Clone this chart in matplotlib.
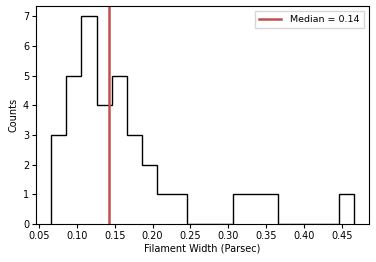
import matplotlib
matplotlib.use("Agg")
import matplotlib.pyplot as plt
import numpy as np

bin_edges = [0.066, 0.086, 0.106, 0.126, 0.146, 0.166, 0.186, 0.206, 0.226, 0.246,
             0.266, 0.286, 0.306, 0.326, 0.346, 0.366, 0.386, 0.406, 0.426, 0.446, 0.466]
counts = [3, 5, 7, 4, 5, 3, 2, 1, 1, 0, 0, 0, 1, 1, 1, 0, 0, 0, 0, 1]
median_value = 0.142
median_label = "Median = 0.14"
x_ticks = [0.05, 0.10, 0.15, 0.20, 0.25, 0.30, 0.35, 0.40, 0.45]
y_ticks = [0, 1, 2, 3, 4, 5, 6, 7]

plt.rcParams['font.family'] = ['DejaVu Sans']
plt.rcParams['font.size'] = 7

fig = plt.figure(figsize=(3.76, 2.62), dpi=100)
ax = fig.add_axes([0.096, 0.145, 0.885, 0.832])

edges = np.array(bin_edges)
centers = (edges[:-1] + edges[1:]) / 2
ax.hist(centers, bins=edges, weights=counts, histtype='step', color='black', linewidth=1.0)
ax.axvline(median_value, color='#c0504d', linewidth=1.8, label=median_label)

ax.set_xticks(x_ticks)
ax.set_xticklabels([f"{t:.2f}" for t in x_ticks])
ax.set_yticks(y_ticks)
ax.set_xlabel("Filament Width (Parsec)", fontsize=7, labelpad=2)
ax.set_ylabel("Counts", fontsize=7, labelpad=3)
ax.tick_params(labelsize=7, length=3, pad=2)
ax.legend(loc='upper right', fontsize=6.8, frameon=True, fancybox=False,
          handlelength=2.3, borderpad=0.45, handletextpad=1.0, borderaxespad=0.5)

fig.savefig("out.png", dpi=100)
